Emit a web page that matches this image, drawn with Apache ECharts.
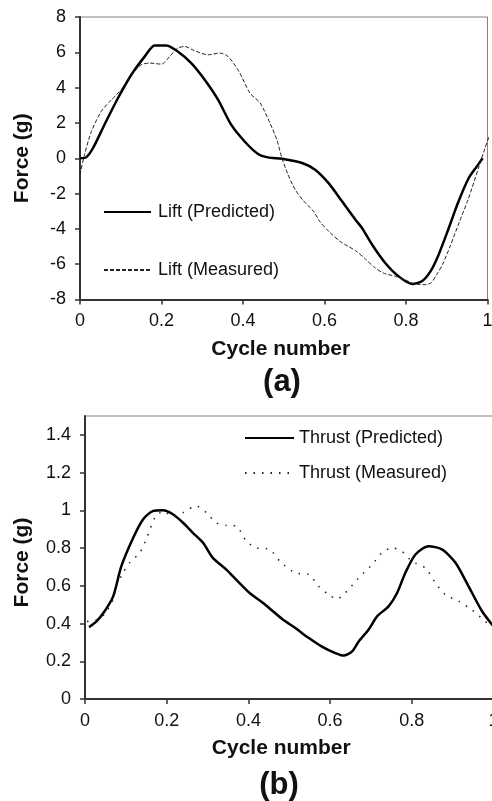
<!DOCTYPE html>
<html>
<head>
<meta charset="utf-8">
<script src="https://cdn.jsdelivr.net/npm/echarts@6/dist/echarts.min.js"></script>
<style>
  html, body { margin: 0; padding: 0; background: #fff; }
  #chart { width: 492px; height: 801px; }
</style>
</head>
<body>
<div id="chart"></div>
<script>
// ---- Panel (a): lift force over one flapping cycle ----
const liftPredCycle = [0, 0.015, 0.032, 0.06, 0.093, 0.126, 0.159, 0.183, 0.212, 0.24, 0.273, 0.306, 0.339, 0.371, 0.404, 0.437, 0.461, 0.496, 0.545, 0.577, 0.61, 0.643, 0.676, 0.692, 0.717, 0.749, 0.782, 0.815, 0.839, 0.86, 0.88, 0.905, 0.929, 0.954, 0.974, 0.988];
const liftPredForce = [0, 0.05, 0.58, 1.9, 3.4, 4.73, 5.77, 6.39, 6.39, 6.05, 5.39, 4.45, 3.31, 1.9, 0.95, 0.24, 0.05, -0.03, -0.27, -0.65, -1.41, -2.44, -3.48, -3.95, -4.9, -5.93, -6.69, -7.12, -6.97, -6.41, -5.46, -3.95, -2.44, -1.12, -0.46, 0.0];

const liftMeasCycle = [0, 0.011, 0.028, 0.052, 0.077, 0.101, 0.126, 0.15, 0.171, 0.2, 0.22, 0.24, 0.257, 0.281, 0.314, 0.343, 0.363, 0.39, 0.417, 0.442, 0.466, 0.483, 0.495, 0.51, 0.528, 0.548, 0.573, 0.589, 0.613, 0.638, 0.659, 0.679, 0.7, 0.72, 0.744, 0.774, 0.8, 0.818, 0.847, 0.862, 0.875, 0.89, 0.908, 0.931, 0.953, 0.978, 0.994, 1.011];
const liftMeasForce = [-0.93, 0.2, 1.52, 2.65, 3.31, 3.88, 4.73, 5.29, 5.39, 5.33, 5.77, 6.24, 6.33, 6.09, 5.86, 5.96, 5.77, 4.92, 3.69, 3.13, 2.0, 1.05, 0.05, -0.9, -1.78, -2.4, -3.0, -3.6, -4.2, -4.71, -5.0, -5.28, -5.7, -6.13, -6.5, -6.69, -6.9, -7.1, -7.16, -7.05, -6.6, -6.0, -5.0, -3.6, -2.3, -0.55, 0.58, 1.71];

// ---- Panel (b): thrust force over one flapping cycle ----
const thrustPredCycle = [0.01, 0.028, 0.048, 0.069, 0.089, 0.118, 0.142, 0.166, 0.191, 0.215, 0.24, 0.264, 0.289, 0.313, 0.346, 0.37, 0.403, 0.436, 0.46, 0.485, 0.515, 0.548, 0.58, 0.613, 0.633, 0.654, 0.67, 0.694, 0.715, 0.743, 0.764, 0.784, 0.809, 0.841, 0.874, 0.907, 0.939, 0.972, 1.0];
const thrustPredForce = [0.381, 0.411, 0.465, 0.544, 0.704, 0.855, 0.952, 0.996, 1.0, 0.979, 0.934, 0.881, 0.828, 0.748, 0.686, 0.633, 0.562, 0.509, 0.465, 0.42, 0.376, 0.323, 0.278, 0.243, 0.23, 0.252, 0.305, 0.367, 0.438, 0.491, 0.562, 0.668, 0.766, 0.81, 0.793, 0.722, 0.597, 0.465, 0.385];

const thrustMeasCycle = [0.005, 0.028, 0.048, 0.069, 0.077, 0.093, 0.109, 0.134, 0.15, 0.171, 0.191, 0.215, 0.24, 0.272, 0.297, 0.321, 0.346, 0.37, 0.395, 0.419, 0.452, 0.477, 0.515, 0.548, 0.572, 0.597, 0.617, 0.637, 0.67, 0.703, 0.727, 0.752, 0.776, 0.8, 0.833, 0.858, 0.882, 0.915, 0.947, 0.98, 1.0];
const thrustMeasForce = [0.411, 0.42, 0.45, 0.527, 0.597, 0.668, 0.722, 0.775, 0.846, 0.961, 0.995, 0.97, 0.988, 1.023, 0.988, 0.934, 0.92, 0.917, 0.837, 0.801, 0.793, 0.73, 0.668, 0.66, 0.597, 0.553, 0.53, 0.562, 0.642, 0.713, 0.775, 0.801, 0.783, 0.73, 0.695, 0.615, 0.553, 0.518, 0.473, 0.411, 0.38];

// Axis tick settings
const cycleTicks = { min: 0, max: 1, interval: 0.2 };
const liftTicks = { min: -8, max: 8, interval: 2 };
const thrustTicks = { min: 0, max: 1.5, interval: 0.2 };

const zip = (xs, ys) => xs.map((x, i) => [x, ys[i]]);

const FONT = "'Liberation Sans', Arial, sans-serif";
const INK = '#111';
const AXIS = '#333';

function xAxisFor(gridIndex, padRight) {
  return {
    type: 'value', gridIndex,
    min: cycleTicks.min, max: cycleTicks.max, interval: cycleTicks.interval,
    name: 'Cycle number', nameLocation: 'middle', nameGap: 39, nameMoveOverlap: false,
    nameTextStyle: { fontFamily: FONT, fontSize: 21, fontWeight: 'bold', color: INK, padding: [0, padRight, 0, 0] },
    axisLine: { show: true, onZero: false, lineStyle: { color: AXIS, width: 2 } },
    axisTick: { show: true, length: 5, lineStyle: { color: AXIS, width: 1.5 } },
    axisLabel: { fontFamily: FONT, fontSize: 18, color: INK, margin: 13 },
    splitLine: { show: false }
  };
}

function yAxisFor(gridIndex, ticks, gap, padRight, hideMax) {
  return {
    type: 'value', gridIndex,
    min: ticks.min, max: ticks.max, interval: ticks.interval,
    name: 'Force (g)', nameLocation: 'middle', nameGap: gap, nameMoveOverlap: false,
    nameTextStyle: { fontFamily: FONT, fontSize: 21, fontWeight: 'bold', color: INK, padding: [0, padRight, 0, 0] },
    axisLine: { show: true, onZero: false, lineStyle: { color: AXIS, width: 2 } },
    axisTick: { show: true, length: 5, lineStyle: { color: AXIS, width: 1.5 } },
    axisLabel: { fontFamily: FONT, fontSize: 18, color: INK, margin: 14, showMaxLabel: !hideMax },
    splitLine: { show: false }
  };
}

// Legend entries show only the line stroke, no marker
function legendFor(names, left, top, itemWidth, itemGap, textPad) {
  return {
    data: names, orient: 'vertical', padding: 0,
    left, top, itemWidth, itemGap, itemHeight: 14,
    itemStyle: { opacity: 0, borderWidth: 0 },
    textStyle: { fontFamily: FONT, fontSize: 18, color: INK, lineHeight: 18, padding: [0, 0, 0, textPad] }
  };
}

const chart = echarts.init(document.getElementById('chart'), null, { renderer: 'canvas' });

chart.setOption({
  backgroundColor: '#fff',
  animation: false,
  grid: [
    { left: 80, top: 17, width: 407.5, height: 282.5, show: true, borderColor: '#808080', borderWidth: 1, outerBoundsMode: 'none' },
    { left: 85, top: 416, width: 408.5, height: 283, show: true, borderColor: '#808080', borderWidth: 1, outerBoundsMode: 'none' }
  ],
  xAxis: [xAxisFor(0, 6), xAxisFor(1, 16)],
  yAxis: [yAxisFor(0, liftTicks, 47, 0, false), yAxisFor(1, thrustTicks, 52, 10, true)],
  legend: [
    legendFor(['Lift (Predicted)', 'Lift (Measured)'], 103, 203, 47, 40, 2),
    legendFor(['Thrust (Predicted)', 'Thrust (Measured)'], 244, 429, 49, 17, 0)
  ],
  graphic: [
    { type: 'text', x: 282, y: 382, style: { text: '(a)', fontFamily: FONT, fontSize: 31, fontWeight: 'bold', fill: INK, textAlign: 'center', textVerticalAlign: 'middle' } },
    { type: 'text', x: 279, y: 785, style: { text: '(b)', fontFamily: FONT, fontSize: 31, fontWeight: 'bold', fill: INK, textAlign: 'center', textVerticalAlign: 'middle' } }
  ],
  series: [
    {
      name: 'Lift (Predicted)', type: 'line', xAxisIndex: 0, yAxisIndex: 0,
      data: zip(liftPredCycle, liftPredForce), showSymbol: false, symbol: 'none', smooth: 0.25,
      lineStyle: { color: '#000', width: 2.5 }, itemStyle: { color: '#000' }
    },
    {
      name: 'Lift (Measured)', type: 'line', xAxisIndex: 0, yAxisIndex: 0, clip: false,
      data: zip(liftMeasCycle, liftMeasForce), showSymbol: false, symbol: 'none', smooth: 0.25,
      lineStyle: { color: '#222', width: 1, type: [4, 2] }, itemStyle: { color: '#222' }
    },
    {
      name: 'Thrust (Predicted)', type: 'line', xAxisIndex: 1, yAxisIndex: 1,
      data: zip(thrustPredCycle, thrustPredForce), showSymbol: false, symbol: 'none', smooth: 0.25,
      lineStyle: { color: '#000', width: 2.5 }, itemStyle: { color: '#000' }
    },
    {
      name: 'Thrust (Measured)', type: 'line', xAxisIndex: 1, yAxisIndex: 1,
      data: zip(thrustMeasCycle, thrustMeasForce), showSymbol: false, symbol: 'none', smooth: 0.25,
      lineStyle: { color: '#222', width: 1.5, type: [1.5, 7] }, itemStyle: { color: '#222' }
    }
  ]
});
</script>
</body>
</html>
